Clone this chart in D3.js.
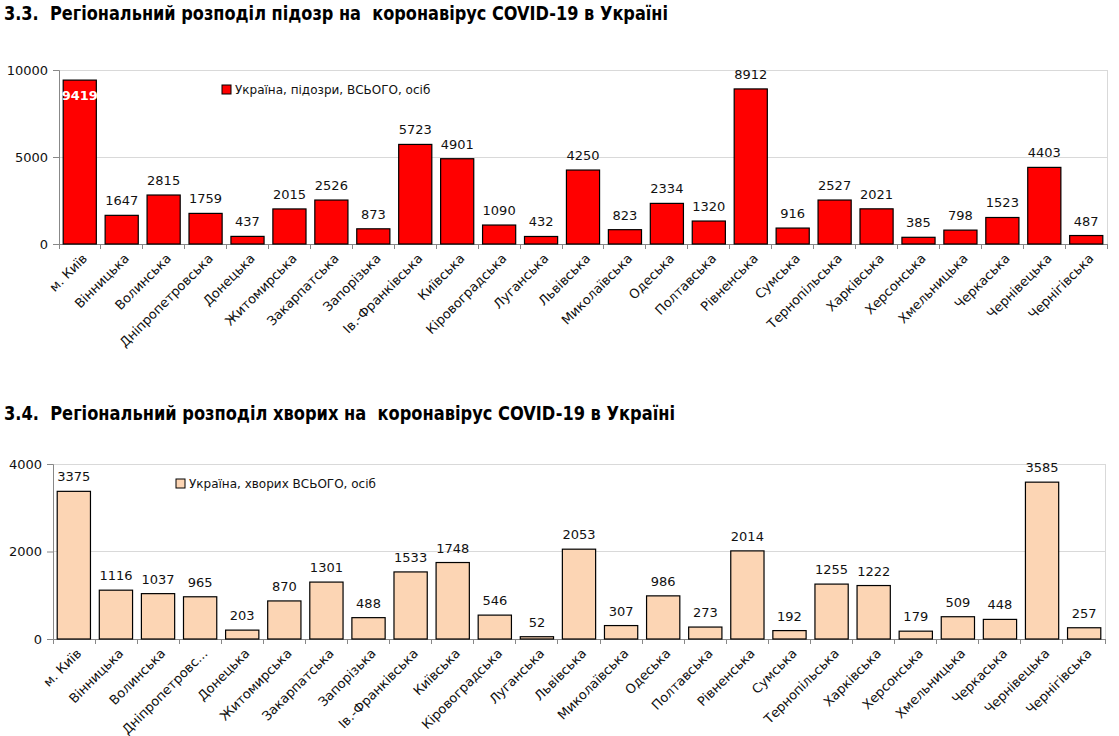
<!DOCTYPE html>
<html>
<head>
<meta charset="utf-8">
<script src="https://cdn.jsdelivr.net/npm/d3@7"></script>
<style>
  body { margin: 0; background: #fff; }
  svg { display: block; }
  .title { font-family: "Liberation Sans Narrow", "DejaVu Sans Condensed", "Liberation Sans", sans-serif; font-weight: bold; font-size: 19px; fill: #000; }
  .lbl { font-family: "DejaVu Sans", Verdana, sans-serif; }
</style>
</head>
<body>
<svg id="chart" width="1119" height="736"></svg>
<script>
const categories1 = ["м. Київ","Вінницька","Волинська","Дніпропетровська","Донецька","Житомирська","Закарпатська","Запорізька","Ів.-Франківська","Київська","Кіровоградська","Луганська","Львівська","Миколаївська","Одеська","Полтавська","Рівненська","Сумська","Тернопільська","Харківська","Херсонська","Хмельницька","Черкаська","Чернівецька","Чернігівська"];
const categories2 = ["м. Київ","Вінницька","Волинська","Дніпропетровс...","Донецька","Житомирська","Закарпатська","Запорізька","Ів.-Франківська","Київська","Кіровоградська","Луганська","Львівська","Миколаївська","Одеська","Полтавська","Рівненська","Сумська","Тернопільська","Харківська","Херсонська","Хмельницька","Черкаська","Чернівецька","Чернігівська"];
const suspected = [9419,1647,2815,1759,437,2015,2526,873,5723,4901,1090,432,4250,823,2334,1320,8912,916,2527,2021,385,798,1523,4403,487];
const sick = [3375,1116,1037,965,203,870,1301,488,1533,1748,546,52,2053,307,986,273,2014,192,1255,1222,179,509,448,3585,257];
const ticks1 = [0,5000,10000];
const ticks2 = [0,2000,4000];
const title1 = "3.3.  Регіональний розподіл підозр на  коронавірус COVID-19 в Україні";
const title2 = "3.4.  Регіональний розподіл хворих на  коронавірус COVID-19 в Україні";
const legend1 = "Україна, підозри, ВСЬОГО, осіб";
const legend2 = "Україна, хворих ВСЬОГО, осіб";

const svg = d3.select("#chart");

function drawChart(cfg) {
  const g = svg.append("g");
  g.append("text").attr("class","title").attr("x", cfg.titleX).attr("y", cfg.titleY)
    .attr("textLength", cfg.titleLen).attr("lengthAdjust","spacingAndGlyphs")
    .style("white-space","pre").text(cfg.title);

  const x = d3.scaleBand().domain(d3.range(cfg.cats.length)).range([cfg.x0, cfg.x1])
    .paddingInner(0.21).paddingOuter(0.1);
  const y = d3.scaleLinear().domain([0, cfg.max]).range([cfg.y0, cfg.yTop]);

  // gridlines
  g.selectAll(".grid").data(cfg.ticks.filter(t => t > 0)).join("line")
    .attr("x1", cfg.x0).attr("x2", cfg.x1)
    .attr("y1", d => y(d)).attr("y2", d => y(d))
    .attr("stroke", "#d9d9d9").attr("stroke-width", 1).attr("shape-rendering","crispEdges");
  // right border
  g.append("line").attr("x1", cfg.x1).attr("x2", cfg.x1).attr("y1", cfg.yTop).attr("y2", cfg.y0)
    .attr("stroke", "#d9d9d9").attr("shape-rendering","crispEdges");

  // y axis
  const ya = d3.axisLeft(y).tickValues(cfg.ticks).tickSize(6).tickPadding(5).tickFormat(d3.format("d"));
  const yg = g.append("g").attr("transform", `translate(${cfg.x0},0)`).call(ya);
  yg.select(".domain").attr("stroke", "#888");
  yg.selectAll(".tick line").attr("stroke", "#888");
  yg.selectAll(".tick text").attr("class","lbl").attr("font-size", 13).attr("fill", "#111");

  // x axis (boundary ticks)
  const bounds = d3.range(cfg.cats.length + 1).map(i => cfg.x0 + i * (cfg.x1 - cfg.x0) / cfg.cats.length);
  g.append("line").attr("x1", cfg.x0).attr("x2", cfg.x1).attr("y1", cfg.y0).attr("y2", cfg.y0)
    .attr("stroke", "#888").attr("shape-rendering","crispEdges");
  g.selectAll(".xt").data(bounds).join("line")
    .attr("x1", d => d).attr("x2", d => d).attr("y1", cfg.y0).attr("y2", cfg.y0 + 5)
    .attr("stroke", "#888").attr("shape-rendering","crispEdges");

  // bars
  g.selectAll(".bar").data(cfg.values).join("rect")
    .attr("x", (d,i) => x(i)).attr("width", x.bandwidth())
    .attr("y", d => y(d)).attr("height", d => cfg.y0 - y(d))
    .attr("fill", cfg.color).attr("stroke", "#000").attr("stroke-width", 1.2);

  // value labels
  g.selectAll(".val").data(cfg.values).join("text")
    .attr("class","lbl")
    .attr("x", (d,i) => x(i) + x.bandwidth()/2)
    .attr("y", (d,i) => (cfg.inside && i === 0) ? y(d) + 20 : y(d) - 10)
    .attr("text-anchor", "middle").attr("font-size", 13)
    .attr("font-weight", (d,i) => (cfg.inside && i === 0) ? "bold" : "normal")
    .attr("fill", (d,i) => (cfg.inside && i === 0) ? "#fff" : "#111")
    .text(d => d);

  // category labels
  g.selectAll(".cat").data(cfg.cats).join("text")
    .attr("class","lbl")
    .attr("transform", (d,i) => `translate(${x(i) + x.bandwidth()/2 + 5},${cfg.y0 + 12}) rotate(-45)`)
    .attr("text-anchor", "end").attr("dy", "0.35em").attr("font-size", 13).attr("fill", "#111")
    .text(d => d);

  // legend
  g.append("rect").attr("x", cfg.legX).attr("y", cfg.legY - 5).attr("width", 9).attr("height", 9)
    .attr("fill", cfg.color).attr("stroke", "#000").attr("stroke-width", 1);
  g.append("text").attr("class","lbl").attr("x", cfg.legX + 13).attr("y", cfg.legY).attr("dy","0.35em")
    .attr("font-size", 12).attr("fill", "#111").text(cfg.legend);
}

drawChart({title: title1, titleX: 4, titleY: 20, titleLen: 664, cats: categories1, values: suspected,
  max: 10000, ticks: ticks1, x0: 59, x1: 1107, yTop: 70, y0: 244, color: "#ff0000", inside: true,
  legend: legend1, legX: 222, legY: 90});
drawChart({title: title2, titleX: 4, titleY: 420, titleLen: 671, cats: categories2, values: sick,
  max: 4000, ticks: ticks2, x0: 53, x1: 1105, yTop: 464, y0: 639, color: "#fcd5b4", inside: false,
  legend: legend2, legX: 176, legY: 484});
</script>
</body>
</html>
